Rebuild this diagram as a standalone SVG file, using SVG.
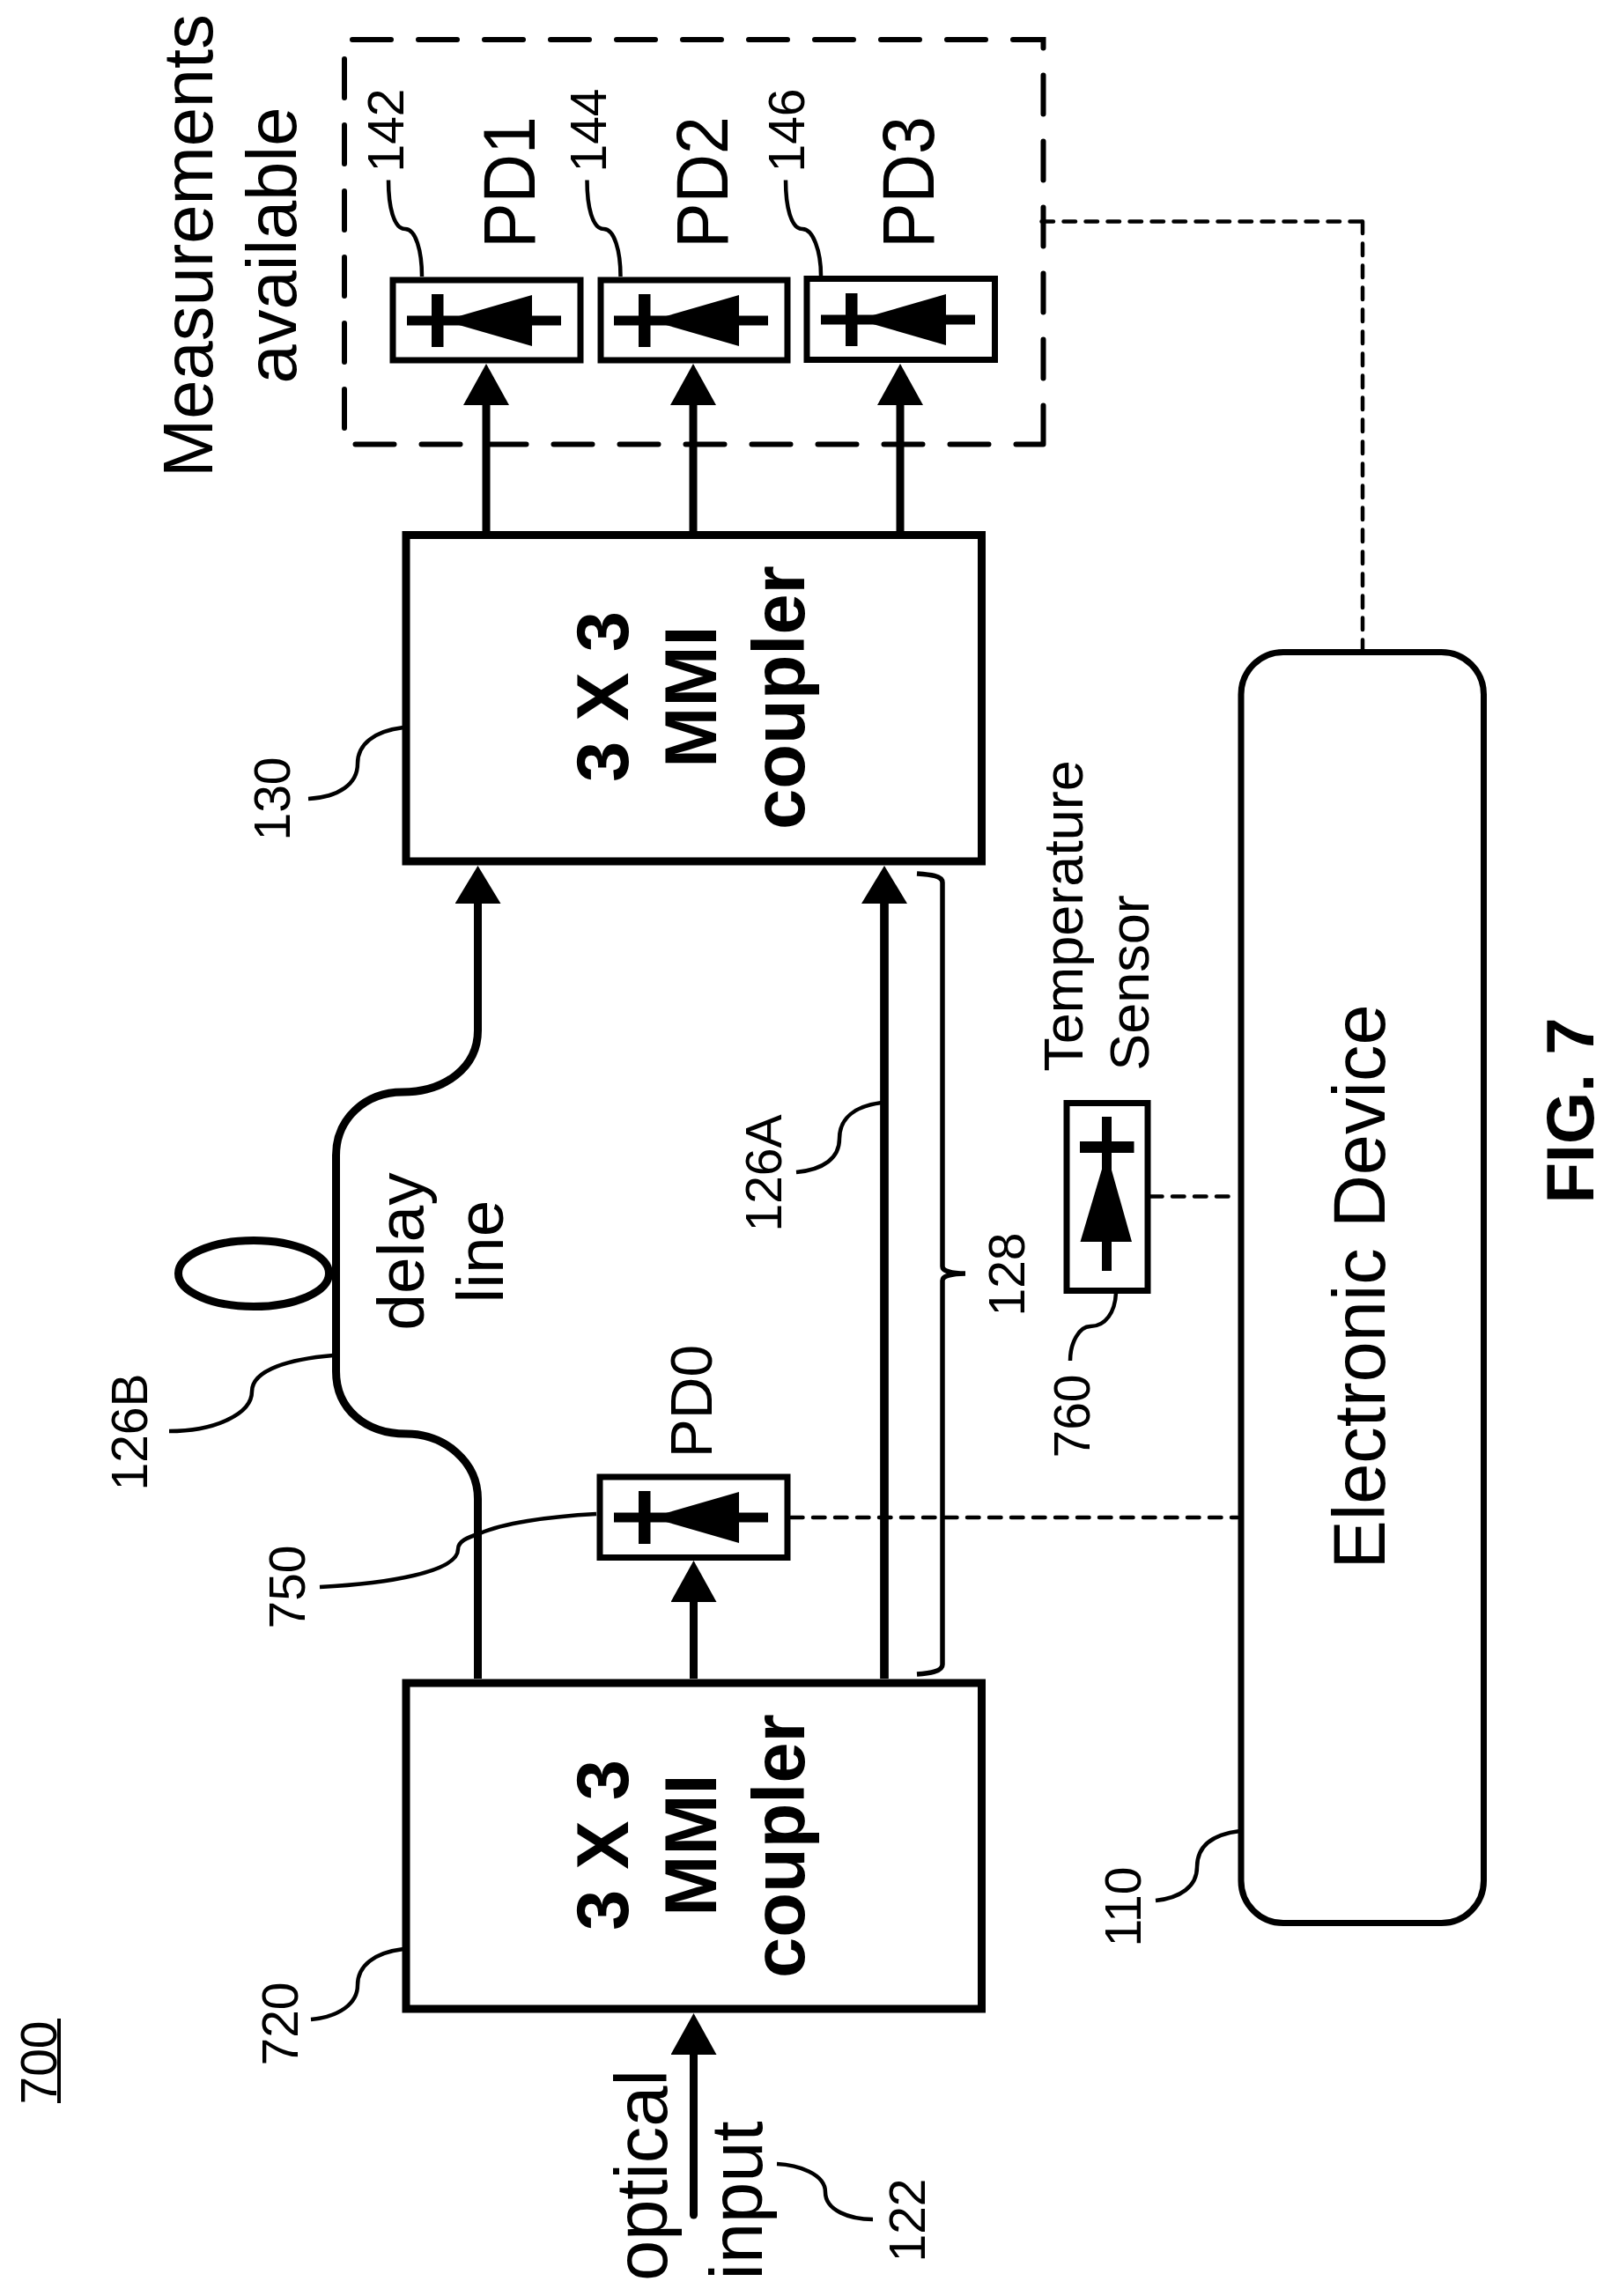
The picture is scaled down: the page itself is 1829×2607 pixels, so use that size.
<svg xmlns="http://www.w3.org/2000/svg" width="1829" height="2607" viewBox="0 0 1829 2607">
<style>
text{font-family:"Liberation Sans",Arial,sans-serif;fill:#000;text-anchor:middle}
.n{font-size:57px}.l{font-size:83px}.s{font-size:79.500px}.p{font-size:84px}.b{font-size:83px;font-weight:700}.m{font-size:75px}.t{font-size:63px}
.box{fill:#fff;stroke:#000;stroke-width:9}
.pd{fill:#fff;stroke:#000;stroke-width:7}
.w{fill:none;stroke:#000;stroke-width:9}
.w2{fill:none;stroke:#000;stroke-width:9.700}
.ld{fill:none;stroke:#000;stroke-width:4.500}
.ds{fill:none;stroke:#000;stroke-width:4.500;stroke-dasharray:13.500 11.500;stroke-linecap:round}
</style>
<defs>
<marker id="a" markerUnits="userSpaceOnUse" markerWidth="48" markerHeight="52" refX="0" refY="26" orient="auto"><path d="M0 0L47 26L0 52Z" fill="#000"/></marker>
<marker id="b" markerUnits="userSpaceOnUse" markerWidth="48" markerHeight="52" refX="0" refY="26" orient="auto"><path d="M0 0L43 26L0 52Z" fill="#000"/></marker>
<g id="diode"><path d="M0 -5.500H175V5.500H0Z" fill="#000"/><path d="M28 -30H41.500V30H28Z" fill="#000"/><path d="M41.500 0L142 -29V29Z" fill="#000"/></g>
</defs>
<g id="connectors">
<path class="w" d="M552 603V460" marker-end="url(#a)"/>
<path class="w" d="M787 603V460" marker-end="url(#a)"/>
<path class="w" d="M1022 603V460" marker-end="url(#a)"/>
<path class="w" d="M542.500 1906V1702C542.500 1660 505 1628 461 1628C415 1628 381.500 1600 381.500 1557V1312C381.500 1270 415 1240 457 1240C505 1240 542.500 1212 542.500 1170V1026" marker-end="url(#b)"/>
<path class="w2" d="M1004 1906V1026" marker-end="url(#b)"/>
<path class="w" d="M787.500 1906V1819" marker-end="url(#a)"/>
<path class="w" stroke-linecap="round" d="M787.500 2515V2333" marker-end="url(#a)"/>
<path class="ds" d="M1182.500 251.500H1547"/>
<path class="ds" d="M1547 251.500V737"/>
<path class="ds" d="M898 1723H1405"/>
<path class="ds" d="M1306 1358.500H1405"/>
<path class="ld" style="stroke-width:5.500" d="M1041 992C1055 993 1070 994 1070 1002V1438C1070 1443 1080 1446 1096 1446C1080 1446 1070 1449 1070 1454V1890C1070 1898 1055 1900 1041 1901"/>
<path class="ld" d="M441 204.500C441 235 447 260 460 260C472 260 479 285 479 314"/>
<path class="ld" d="M666.500 204.500C666.500 235 672.500 260 685.500 260C697.500 260 704.500 285 704.500 314"/>
<path class="ld" d="M892 204.500C892 235 898 260 911 260C923 260 932 285 932 313"/>
<path class="ld" d="M458 826C425 830 406 845 406 867C406 890 385 905 350 907"/>
<path class="ld" d="M458 2213C425 2217 406 2232 406 2254C406 2275 385 2290 353 2293"/>
<path class="ld" d="M1001 1252C970 1256 953 1270 953 1293C953 1315 935 1328 904 1331"/>
<path class="ld" d="M378 1539C330 1543 286 1555 286 1580C286 1605 245 1625 192 1625"/>
<path class="ld" d="M1267 1468C1266 1490 1255 1506 1238 1506C1225 1506 1215 1525 1215 1545"/>
<path class="ld" d="M677 1719C620 1722 570 1730 545 1741C530 1746 520 1750 520 1759C520 1785 440 1798 363 1802"/>
<path class="ld" d="M1408 2079C1375 2083 1359 2097 1359 2120C1359 2142 1340 2155 1312 2158"/>
<path class="ld" d="M882 2457C905 2458 937 2468 937 2489C937 2510 965 2520 991 2520"/>
</g>
<g id="measurements">
<path fill="none" stroke="#000" stroke-width="6" stroke-linecap="round" stroke-dasharray="44 31" d="M1184.500 504.500V45H391V504.500H1184.500"/>
<text class="s" transform="translate(241 279) rotate(-90)">Measurements</text>
<text class="s" transform="translate(336 278.500) rotate(-90)">available</text>
</g>
<g id="pd1"><rect class="pd" x="446" y="318" width="213" height="91"/><use href="#diode" transform="translate(462 364)"/><text class="p" transform="translate(607 207) rotate(-90) scale(.915 1)">PD1</text><text class="n" transform="translate(458 148) rotate(-90)">142</text></g>
<g id="pd2"><rect class="pd" x="682" y="318" width="212" height="91"/><use href="#diode" transform="translate(697 364)"/><text class="p" transform="translate(826 207) rotate(-90) scale(.915 1)">PD2</text><text class="n" transform="translate(688 148) rotate(-90)">144</text></g>
<g id="pd3"><rect class="pd" x="916" y="316.500" width="213.500" height="92"/><use href="#diode" transform="translate(932 363)"/><text class="p" transform="translate(1060 207) rotate(-90) scale(.915 1)">PD3</text><text class="n" transform="translate(913 148) rotate(-90)">146</text></g>
<g id="coupler130"><rect class="box" x="461" y="607.500" width="653.500" height="370.500"/>
<text class="b" transform="translate(713 791) rotate(-90)">3 X 3</text><text class="b" transform="translate(813 791) rotate(-90)">MMI</text><text class="b" transform="translate(913 792) rotate(-90)">coupler</text>
<text class="n" transform="translate(329 907) rotate(-90)">130</text></g>
<g id="coupler720"><rect class="box" x="461" y="1911" width="653.500" height="370"/>
<text class="b" transform="translate(713 2095) rotate(-90)">3 X 3</text><text class="b" transform="translate(813 2095) rotate(-90)">MMI</text><text class="b" transform="translate(913 2096) rotate(-90)">coupler</text>
<text class="n" transform="translate(338 2298) rotate(-90)">720</text></g>
<g id="delay"><ellipse cx="288" cy="1446" rx="85.500" ry="37.500" fill="none" stroke="#000" stroke-width="9"/>
<text class="m" transform="translate(481 1421) rotate(-90)">delay</text><text class="m" transform="translate(571 1421) rotate(-90)">line</text>
<text class="n" transform="translate(167 1626) rotate(-90)">126B</text><text class="n" transform="translate(887 1332) rotate(-90)">126A</text><text class="n" transform="translate(1163 1447) rotate(-90)">128</text></g>
<g id="pd0"><rect class="pd" x="681" y="1677" width="213" height="91.500"/><use href="#diode" transform="translate(697 1723)"/><text style="font-size:66px" transform="translate(808 1591) rotate(-90)">PD0</text><text class="n" transform="translate(346 1802) rotate(-90)">750</text></g>
<g id="sensor"><rect class="pd" x="1211" y="1252.500" width="92" height="213"/>
<path d="M1251 1268H1262V1443H1251Z" fill="#000"/><path d="M1226 1296H1287.500V1309H1226Z" fill="#000"/><path d="M1256.500 1309L1285 1410H1226.500Z" fill="#000"/>
<text class="t" transform="translate(1229 1040) rotate(-90)">Temperature</text><text class="t" transform="translate(1304 1116) rotate(-90)">Sensor</text><text class="n" transform="translate(1237 1608) rotate(-90)">760</text></g>
<g id="device"><rect x="1409" y="740.500" width="275.500" height="1443" rx="48" ry="48" fill="#fff" stroke="#000" stroke-width="7"/>
<text style="font-size:83px" transform="translate(1571.500 1461) rotate(-90)">Electronic Device</text><text class="n" transform="translate(1295 2165) rotate(-90)">110</text></g>
<g id="input"><text class="l" transform="translate(757 2470) rotate(-90)">optical</text><text class="l" transform="translate(865 2498.500) rotate(-90)">input</text><text class="n" transform="translate(1050 2521) rotate(-90)">122</text></g>
<g id="fig"><text class="b" style="font-size:76px" transform="translate(1809 1261) rotate(-90)">FIG. 7</text></g>
<g id="ref700"><text class="n" transform="translate(64 2342) rotate(-90)">700</text><path d="M67 2292V2388" stroke="#000" stroke-width="4"/></g>
</svg>
